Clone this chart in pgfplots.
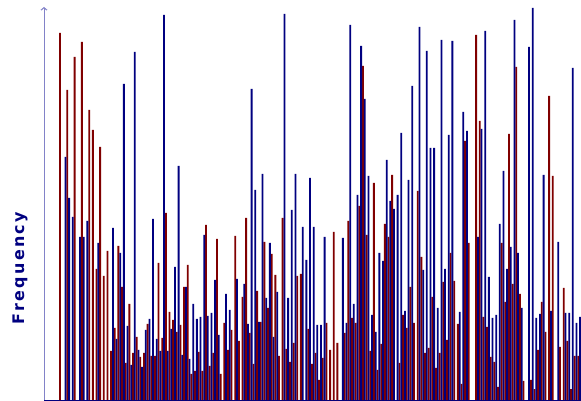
\documentclass[border=0pt]{standalone}
\usepackage{fontspec}
\usepackage{pgfplots}
\pgfplotsset{compat=1.18}
\usetikzlibrary{arrows.meta}
\newfontfamily\labfont{DejaVu Sans}[LetterSpace=15]
\definecolor{barred}{RGB}{128,0,0}
\definecolor{barblue}{RGB}{0,0,128}
\definecolor{axlav}{RGB}{130,130,200}
\begin{document}
\begin{tikzpicture}
\begin{axis}[
  scale only axis,
  width=537bp, height=393bp,
  at={(0,0)}, anchor=south west,
  xmin=-8.77, xmax=285.48,
  ymin=0, ymax=393,
  axis x line*=bottom,
  axis y line=left,
  x axis line style={-, draw=barblue, line width=0.9pt},
  y axis line style={-{Straight Barb[length=2.5pt,width=6pt]}, draw=axlav, line width=1pt},
  xtick=\empty, ytick=\empty,
  ybar, bar width=1.0, bar shift=0pt,
  clip=false,
]
\addplot[fill=barred, draw=none] coordinates {
(0,367)(4,310)(8,343)(12,358)(16,290)(18,270)(20,131)(22,253)(24,124)(26,149)(28,49)
(30,72)(32,154)(34,113)(36,37)(38,96)(40,47)(42,63)(44,43)(46,47)(48,76)(50,44)(52,44)
(54,137)(56,62)(58,187)(60,88)(62,80)(64,68)(66,75)(68,113)(70,135)(72,26)(74,29)(76,48)
(78,29)(80,175)(82,34)(84,47)(86,161)(88,26)(90,77)(92,50)(94,70)(96,164)(98,59)(100,103)
(102,182)(104,67)(106,36)(108,109)(110,78)(112,158)(114,92)(116,146)(118,125)(120,44)
(122,182)(124,51)(126,38)(128,57)(130,124)(132,126)(136,71)(138,36)(140,47)(142,20)
(144,42)(146,77)(148,50)(150,168)(152,57)(156,67)(158,179)(160,82)(162,77)(164,194)
(166,334)(168,165)(170,49)(172,217)(174,30)(176,56)(178,176)(180,163)(182,225)(186,37)
(188,85)(190,72)(192,113)(194,77)(196,209)(198,143)(200,47)(202,52)(204,103)(206,32)
(208,47)(210,118)(212,60)(214,147)(216,119)(218,76)(220,16)(222,259)(224,157)(228,365)
(230,279)(232,83)(234,73)(236,43)(238,38)(240,13)(242,157)(244,98)(246,266)(248,116)
(250,333)(252,106)(254,19)(258,20)(260,11)(262,50)(264,98)(266,68)(268,304)(270,224)
(274,53)(276,112)(278,59)(280,11)(282,44)(284,44)
};
\addplot[fill=barblue, draw=none] coordinates {
(3,243)(5,202)(7,183)(11,163)(13,163)(15,179)(21,157)(29,172)(31,61)(33,147)(35,316)
(37,74)(39,35)(41,348)(43,50)(45,33)(47,70)(49,81)(51,181)(53,61)(55,49)(57,385)(59,49)
(61,71)(63,133)(65,234)(67,45)(69,113)(71,41)(73,96)(75,81)(77,83)(79,165)(81,84)(83,87)
(85,120)(87,65)(91,106)(93,90)(97,121)(101,116)(103,76)(105,311)(107,210)(109,78)
(111,226)(113,102)(115,157)(117,63)(119,108)(123,386)(125,102)(127,190)(129,226)
(133,173)(135,140)(137,222)(139,173)(141,75)(143,75)(145,163)(155,162)(157,77)(159,375)
(161,96)(163,205)(165,354)(167,301)(169,224)(171,85)(173,68)(175,147)(177,139)(179,240)
(181,199)(183,191)(185,205)(187,267)(189,89)(191,220)(193,314)(197,373)(199,130)
(201,349)(203,252)(205,252)(207,92)(209,360)(211,131)(213,265)(215,359)(219,88)(221,288)
(223,269)(229,163)(231,271)(233,369)(235,123)(237,82)(239,85)(241,176)(243,229)(245,131)
(247,153)(249,380)(251,147)(253,92)(257,353)(259,392)(261,82)(263,86)(265,225)(269,89)
(273,158)(277,87)(279,87)(281,332)(283,77)(285,83)
};
\end{axis}
\node[rotate=90, text=barblue, font=\labfont\bfseries\fontsize{16}{16}\selectfont, inner sep=0pt] at (-24bp,132bp) {Frequency};
\pgfresetboundingbox
\path[use as bounding box] (-44bp,-1bp) rectangle (537bp,400bp);
\end{tikzpicture}
\end{document}
